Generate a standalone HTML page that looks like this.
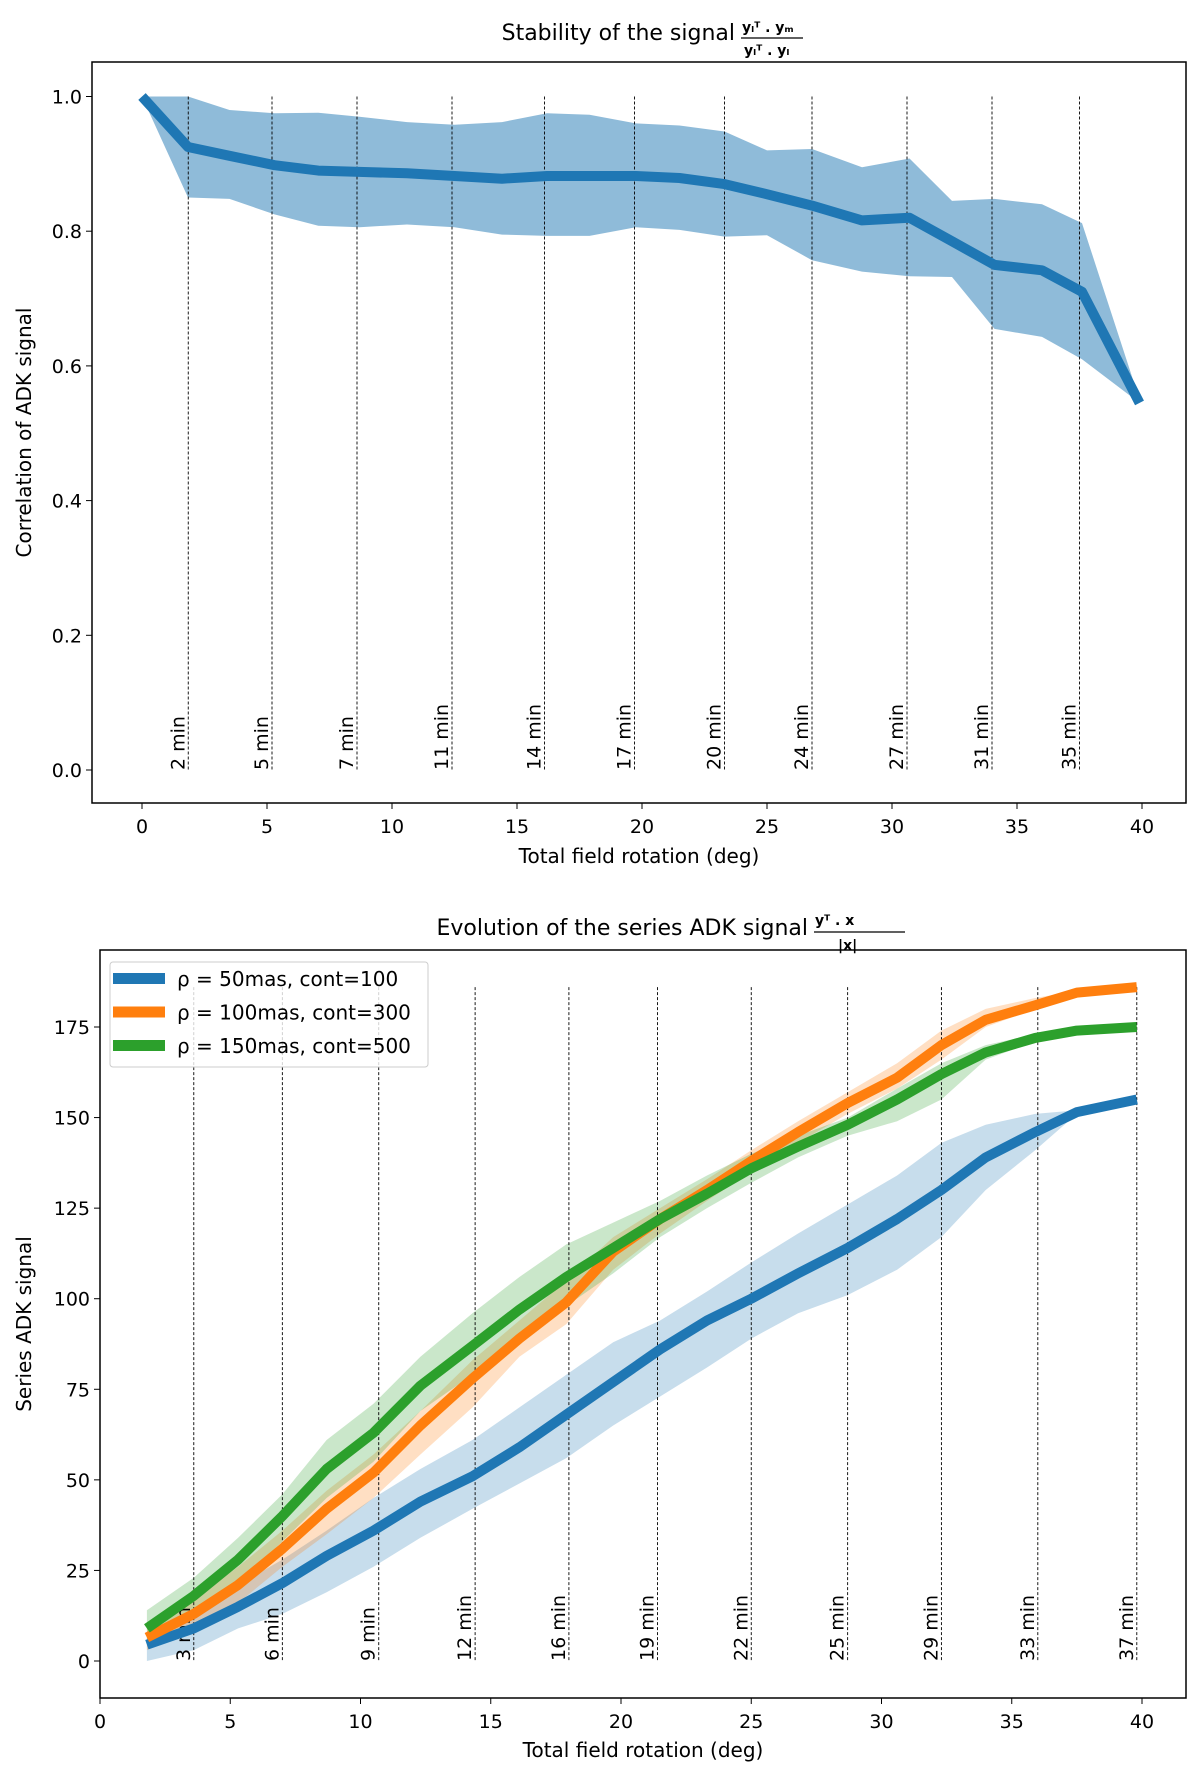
<!DOCTYPE html>
<html><head><meta charset="utf-8"><style>
body{margin:0;background:#fff}
svg{display:block;font-family:"DejaVu Sans","Liberation Sans",sans-serif}
</style></head><body>
<svg id="c" width="1200" height="1768" xmlns="http://www.w3.org/2000/svg"></svg>
<script>
// ---- top chart data ----
const topX=[0,1.84,3.5,5.3,7.05,8.7,10.6,12.5,14.4,16.2,17.9,19.75,21.5,23.3,25,26.8,28.8,30.7,32.4,34.1,36,37.6,39.9];
const topMean=[1.0,0.925,0.912,0.898,0.89,0.888,0.886,0.882,0.878,0.882,0.882,0.882,0.879,0.87,0.855,0.838,0.816,0.82,0.785,0.75,0.742,0.71,0.545];
const topUpper=[1.0,1.0,0.98,0.975,0.976,0.970,0.962,0.958,0.962,0.975,0.973,0.960,0.957,0.948,0.920,0.922,0.895,0.908,0.845,0.848,0.840,0.812,0.55];
const topLower=[1.0,0.85,0.848,0.825,0.808,0.806,0.81,0.806,0.795,0.793,0.793,0.806,0.802,0.792,0.794,0.757,0.74,0.733,0.732,0.655,0.643,0.61,0.545];
const topVX=[1.85,5.2,8.6,12.4,16.1,19.7,23.3,26.8,30.6,34.0,37.5];
const topVL=["2 min","5 min","7 min","11 min","14 min","17 min","20 min","24 min","27 min","31 min","35 min"];
const topXTicks=[0,5,10,15,20,25,30,35,40];
const topYTicks=[0.0,0.2,0.4,0.6,0.8,1.0];
// ---- bottom chart data ----
const botX=[1.8,3.6,5.3,7.0,8.7,10.5,12.3,14.3,16.1,17.9,19.7,21.5,23.3,25,26.8,28.7,30.6,32.3,34.0,35.9,37.5,39.8];
const blueMean=[4.5,9,15,21.5,29,36,44,51,59,68,77,86,94,100,107,114,122,130,139,146,151.5,155];
const blueUp=[8,14,21,28,36,45,53,61,70,79,88,94,102,110,118,126,134,143,148,151,152,155];
const blueLo=[0,3,9,13,19,26,34,42,49,56,65,73,81,89,96,101,108,117,130,141,151,155];
const orMean=[6.5,13,21,31,42,52,65,78,89,99,113,122,130,138,146,154,161,170,177,181,184.5,186];
const orUp=[9,17,26,36,47,57,69,83,94,105,117,125,133,141,149,157,165,174,180,183,185,186];
const orLo=[3,9,16,26,35,45,57,70,84,93,108,118,127,135,143,151,158,166,175,180,184,186];
const grMean=[9,18,28,40,53,63,76,87,97,106,114,122,129,136,142,148,155,162,168,172,174,175];
const grUp=[14,23,34,46,61,71,84,96,106,115,121,127,134,140,145,150,158,165,170,173,174,175];
const grLo=[6,12,21,33,45,55,69,79,89,98,107,117,125,132,139,145,149,155,166,171,174,175];
const botVX=[3.6,7.0,10.7,14.4,18.0,21.4,25.0,28.7,32.3,36.0,39.8];
const botVL=["3 min","6 min","9 min","12 min","16 min","19 min","22 min","25 min","29 min","33 min","37 min"];
const botXTicks=[0,5,10,15,20,25,30,35,40];
const botYTicks=[0,25,50,75,100,125,150,175];
const legendLabels=["\u03C1 = 50mas, cont=100","\u03C1 = 100mas, cont=300","\u03C1 = 150mas, cont=500"];

const NS="http://www.w3.org/2000/svg";
const svg=document.getElementById('c');
function mk(tag,attrs,parent,text){const e=document.createElementNS(NS,tag);for(const k in attrs)e.setAttribute(k,attrs[k]);if(text!==undefined)e.textContent=text;(parent||svg).appendChild(e);return e;}
function lin(d0,d1,r0,r1){return v=>r0+(v-d0)/(d1-d0)*(r1-r0);}
function pts(xs,ys,sx,sy){return xs.map((x,i)=>sx(x).toFixed(1)+','+sy(ys[i]).toFixed(1)).join(' ');}
function band(xs,up,lo,sx,sy){return pts(xs,up,sx,sy)+' '+pts(xs.slice().reverse(),lo.slice().reverse(),sx,sy);}

// ===== top =====
const T={l:92,r:1186,t:62,b:803};
const tx=lin(0,40,142,1142), ty=lin(0,1,770,96.5);
const g1=mk('g',{});

let e=mk('polygon',{points:band(topX,topUpper,topLower,tx,ty),fill:'#1f77b4','fill-opacity':0.5},g1);

topVX.forEach((v,i)=>{
  let l=mk('line',{x1:tx(v),x2:tx(v),y1:ty(1.0),y2:ty(0),stroke:'#000','stroke-width':0.9,'stroke-dasharray':'3,2'},g1);
  
  let t=mk('text',{x:0,y:0,transform:`translate(${tx(v)-4},${ty(0)}) rotate(-90)`,'font-size':19},g1,topVL[i]);
  
});
e=mk('polyline',{points:pts(topX,topMean,tx,ty),fill:'none',stroke:'#1f77b4','stroke-width':10,'stroke-linejoin':'round'},g1);

e=mk('rect',{x:T.l,y:T.t,width:T.r-T.l,height:T.b-T.t,fill:'none',stroke:'#000','stroke-width':1.5},g1);

topXTicks.forEach(v=>{mk('line',{x1:tx(v),x2:tx(v),y1:T.b,y2:T.b+6,stroke:'#000'},g1);
  let t=mk('text',{x:tx(v),y:T.b+30,'text-anchor':'middle','font-size':19},g1,String(v));
  });
topYTicks.forEach(v=>{mk('line',{x1:T.l-6,x2:T.l,y1:ty(v),y2:ty(v),stroke:'#000'},g1);
  let t=mk('text',{x:T.l-10,y:ty(v)+7,'text-anchor':'end','font-size':19},g1,v.toFixed(1));
  });
e=mk('text',{x:(T.l+T.r)/2,y:863,'text-anchor':'middle','font-size':20},g1,'Total field rotation (deg)');

e=mk('text',{x:0,y:0,transform:`translate(31,${(T.t+T.b)/2}) rotate(-90)`,'text-anchor':'middle','font-size':20},g1,'Correlation of ADK signal');

e=mk('text',{x:735,y:40,'text-anchor':'end','font-size':22},g1,'Stability of the signal');

mk('text',{x:742,y:32,'font-size':14,'font-weight':'bold'},g1,'y\u2097\u1D40 . y\u2098');
mk('line',{x1:741,x2:803,y1:38,y2:38,stroke:'#000','stroke-width':1.2},g1);
mk('text',{x:744,y:55,'font-size':14,'font-weight':'bold'},g1,'y\u2097\u1D40 . y\u2097');

// ===== bottom =====
const B={l:100,r:1186,t:950,b:1698};
const bx=lin(0,40,100,1142), by=lin(0,175,1661,1027);
const g2=mk('g',{});

const series=[[blueMean,blueUp,blueLo,'#1f77b4','blue'],[orMean,orUp,orLo,'#ff7f0e','orange'],[grMean,grUp,grLo,'#2ca02c','green']];
series.forEach(s=>{let p=mk('polygon',{points:band(botX,s[1],s[2],bx,by),fill:s[3],'fill-opacity':0.25},g2);
  });
botVX.forEach((v,i)=>{
  let l=mk('line',{x1:bx(v),x2:bx(v),y1:by(186),y2:by(0),stroke:'#000','stroke-width':0.9,'stroke-dasharray':'3,2'},g2);
  
  let t=mk('text',{x:0,y:0,transform:`translate(${bx(v)-4},${by(0)}) rotate(-90)`,'font-size':19},g2,botVL[i]);
  
});
series.forEach(s=>{let p=mk('polyline',{points:pts(botX,s[0],bx,by),fill:'none',stroke:s[3],'stroke-width':10,'stroke-linejoin':'round'},g2);
  });
e=mk('rect',{x:B.l,y:B.t,width:B.r-B.l,height:B.b-B.t,fill:'none',stroke:'#000','stroke-width':1.5},g2);

botXTicks.forEach(v=>{mk('line',{x1:bx(v),x2:bx(v),y1:B.b,y2:B.b+6,stroke:'#000'},g2);
  let t=mk('text',{x:bx(v),y:B.b+30,'text-anchor':'middle','font-size':19},g2,String(v));
  });
botYTicks.forEach(v=>{mk('line',{x1:B.l-6,x2:B.l,y1:by(v),y2:by(v),stroke:'#000'},g2);
  let t=mk('text',{x:B.l-10,y:by(v)+7,'text-anchor':'end','font-size':19},g2,String(v));
  });
e=mk('text',{x:(B.l+B.r)/2,y:1757,'text-anchor':'middle','font-size':20},g2,'Total field rotation (deg)');

e=mk('text',{x:0,y:0,transform:`translate(31,${(B.t+B.b)/2}) rotate(-90)`,'text-anchor':'middle','font-size':20},g2,'Series ADK signal');

e=mk('text',{x:808,y:935,'text-anchor':'end','font-size':22},g2,'Evolution of the series ADK signal');

mk('text',{x:815,y:925,'font-size':14,'font-weight':'bold'},g2,'y\u1D40 . x');
mk('line',{x1:814,x2:905,y1:932,y2:932,stroke:'#000','stroke-width':1.2},g2);
mk('text',{x:838,y:950,'font-size':14,'font-weight':'bold'},g2,'|x|');
// legend
const lg=mk('g',{},g2);

mk('rect',{x:110,y:962,width:318,height:105,rx:3,fill:'#fff','fill-opacity':0.8,stroke:'#ccc'},lg);
series.forEach((s,i)=>{const y=979+i*33.5;
  let h=mk('rect',{x:113,y:y-6,width:52,height:11,fill:s[3]},lg);
  
  let t=mk('text',{x:177,y:y+7,'font-size':20},lg,legendLabels[i]);
  });
</script>
</body></html>
